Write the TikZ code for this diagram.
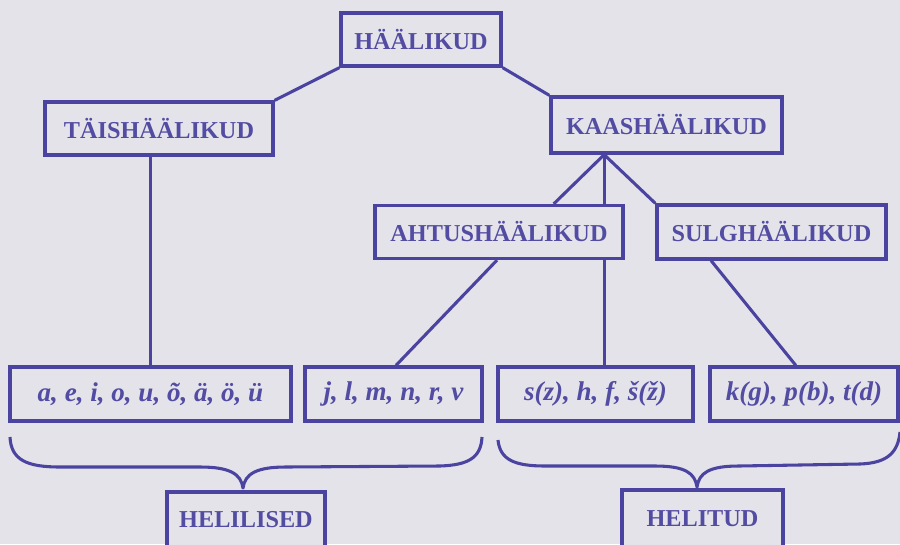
\documentclass[tikz,border=0pt]{standalone}
\usepackage{fontspec}
\setmainfont{Liberation Serif}
\usetikzlibrary{calc,backgrounds}

\definecolor{paper}{RGB}{228,227,234}
\definecolor{ink}{RGB}{74,67,160}
\definecolor{inktext}{RGB}{82,76,163}

\begin{document}
\begin{tikzpicture}[x=0.75pt,y=-0.75pt,
  sz/.style 2 args={minimum width={#1*0.75pt}, minimum height={#2*0.75pt}},
  box/.style={draw=ink, fill=paper, line width=2.5pt, inner sep=0pt, text=inktext,
              font=\fontsize{18.2}{20}\selectfont\bfseries},
  letters/.style={box, font=\fontsize{20.3}{22}\selectfont\bfseries\itshape},
  link/.style={draw=ink, line width=2.3pt},
  brace/.style={draw=ink, line width=2.3pt, line join=round}]

\clip (0,0) rectangle (900,544);

% category boxes
\node[box, sz={160}{53}] (haal)  at (421,39.5)  {HÄÄLIKUD};
\node[box, sz={228}{53}] (tais)  at (159,128.5) {TÄISHÄÄLIKUD};
\node[box, sz={231}{56}] (kaas)  at (666.5,125) {KAASHÄÄLIKUD};
\node[box, sz={248}{53}] (ahtus) at (499,232)   {AHTUSHÄÄLIKUD};
\node[box, sz={229}{54}] (sulg)  at (771.5,232) {SULGHÄÄLIKUD};

% letter boxes
\node[letters, sz={281}{54}] (vok)  at (150.5,394) {a, e, i, o, u, õ, ä, ö, ü};
\node[letters, sz={177}{54}] (son)  at (393.5,394) {j, l, m, n, r, v};
\node[letters, sz={195}{54}] (frik) at (595.5,394) {s(z), h, f, š(ž)};
\node[letters, sz={188}{54}] (plos) at (804,394)   {k(g), p(b), t(d)};

% voiced / voiceless groups
\node[box, sz={158}{56}] (helil) at (246,520)   {HELILISED};
\node[box, sz={161}{58}] (helit) at (702.5,519) {HELITUD};

% tree links, kept behind the filled boxes
\begin{scope}[on background layer]
\fill[paper] (0,0) rectangle (900,544);
\coordinate (kj) at ($(kaas.south west)!0.234!(kaas.south east)$);
\draw[link] (haal.south west) -- (tais.north east);
\draw[link] (haal.south east) -- (kaas.north west);
\draw[link] (kj) -- ($(ahtus.north west)!0.718!(ahtus.north east)$);
\draw[link] (kj) -- (sulg.north west);
\draw[link] (kj) -- (kj |- frik.north);
\draw[link] (vok.north |- tais.south) -- (vok.north);
\draw[link] ($(ahtus.south west)!0.492!(ahtus.south east)$) -- ($(son.north west)!0.514!(son.north east)$);
\draw[link] ($(sulg.south west)!0.24!(sulg.south east)$) -- ($(plos.north west)!0.457!(plos.north east)$);
\end{scope}

% braces gathering the letter groups
\draw[brace] (10,437) .. controls (11,460) and (27,467) .. (60,467)
  -- (200,467) .. controls (230,467) and (241,474) .. (243,488)
  .. controls (245,474) and (256,467) .. (286,467)
  -- (440,466) .. controls (468,465) and (481,458) .. (482,437);
\draw[brace] (498,440) .. controls (500,460) and (515,466) .. (545,466)
  -- (655,466) .. controls (685,466) and (695,473) .. (697,487)
  .. controls (699,473) and (709,466) .. (739,466)
  -- (860,464) .. controls (888,463) and (898,452) .. (900,432);
\end{tikzpicture}
\end{document}
